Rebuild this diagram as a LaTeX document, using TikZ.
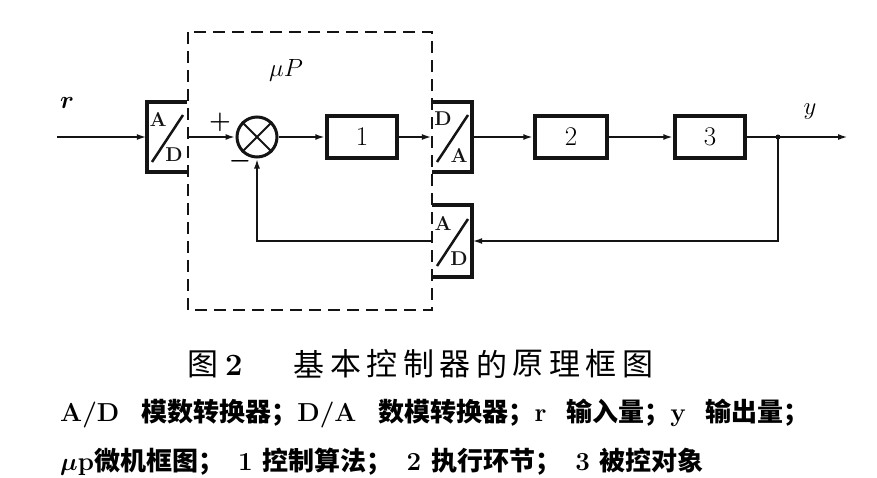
\documentclass[tikz,border=0pt]{standalone}
\usepackage{fontspec}
\newfontfamily\cjk{Noto Sans CJK SC}
\usepackage{tikz}
\usetikzlibrary{arrows.meta, positioning}
\definecolor{InkBlack}{HTML}{141414}

\tikzset{
  conv/.style={minimum width=40pt, minimum height=70pt, inner sep=0pt},
  cvtxt/.style={font=\fontsize{20}{20}\selectfont\bfseries, inner sep=0pt, text=InkBlack},
  blk/.style={draw=InkBlack, line width=3.5pt, minimum width=70pt, minimum height=42pt,
    inner sep=0pt, font=\fontsize{27}{27}\selectfont},
  sig/.style={line width=2pt, draw=InkBlack, -{Latex[length=10pt,width=6pt]}},
  keyline/.style={anchor=west, inner sep=0pt, font=\fontsize{26}{26}\selectfont\bfseries},
}

\begin{document}
\begin{tikzpicture}[x=1pt, y=-1pt, line join=miter]
  \useasboundingbox (0,0) rectangle (877,477);

  % microprocessor boundary
  \draw[InkBlack, line width=2.5pt, dash pattern=on 12pt off 7pt] (188,32) rectangle (432,310);
  \node[font=\fontsize{26}{26}\selectfont] (mup) at (286,70) {$\mu P$};

  % converters
  \node[conv] (ad1) at (167,137) {};
  \node[conv] (da) at (452,137) {};
  \node[conv, minimum height=72pt] (ad2) at (452,241) {};
  \draw[InkBlack, line width=3.5pt] (ad1.north east) -- (ad1.north west) -- (ad1.south west) -- (ad1.south east);
  \foreach \n in {da, ad2} {
    \draw[InkBlack, line width=3.5pt] (\n.north west) -- (\n.north east) -- (\n.south east) -- (\n.south west);
  }
  \foreach \n/\a/\b in {ad1/A/D, da/D/A, ad2/A/D} {
    \draw[InkBlack, line width=2.5pt] ([shift={(-15,25)}]\n.center) -- ([shift={(16,-22)}]\n.center);
    \node[cvtxt] (\n-a) at ([shift={(-9,-18)}]\n.center) {\a};
    \node[cvtxt] (\n-b) at ([shift={(7,18)}]\n.center) {\b};
  }

  % comparator and blocks
  \node[draw=InkBlack, circle, line width=3pt, minimum size=40pt, inner sep=0pt] (sum) at (257,137) {};
  \draw[InkBlack, line width=2pt] (sum.north west) -- (sum.south east);
  \draw[InkBlack, line width=2pt] (sum.north east) -- (sum.south west);
  \node[font=\fontsize{26}{26}\selectfont\boldmath] (plus) at (220,122) {$+$};
  \node[font=\fontsize{26}{26}\selectfont\boldmath] (minus) at (240,161) {$-$};

  \node[blk] (b1) at (362,137) {1};
  \node[blk, minimum width=72pt] (b2) at (571,137) {2};
  \node[blk] (b3) at (710,137) {3};

  \coordinate (rin) at (57,137);
  \coordinate (tap) at (778,137);
  \coordinate (yout) at (848,137);
  \node[font=\fontsize{30}{30}\selectfont\boldmath] (rlab) at (67,103) {$r$};
  \node[font=\fontsize{30}{30}\selectfont] (ylab) at (810,112) {$y$};

  % signal flow
  \draw[sig] (rin) -- (ad1.west);
  \draw[sig] (ad1.east) -- (sum.west);
  \draw[sig] (sum.east) -- (b1.west);
  \draw[sig] (b1.east) -- (da.west);
  \draw[sig] (da.east) -- (b2.west);
  \draw[sig] (b2.east) -- (b3.west);
  \draw[sig] (b3.east) -- (yout);
  \draw[sig] (tap) |- (ad2.east);
  \draw[sig] (ad2.west) -| (sum.south);
  \fill[InkBlack] (tap) circle (2.5pt);

  % caption
  \node[anchor=west, inner sep=0pt, font=\fontsize{31}{31}\selectfont] (fig) at (187,364) {{\cjk 图}\hspace{7pt}\textbf{2}};
  \foreach \c [count=\i from 0] in {基,本,控,制,器,的,原,理,框,图} {
    \node[inner sep=0pt, font=\cjk\fontsize{31}{31}\selectfont] (t\i) at (309+36.5*\i,364) {\c};
  }
  \node[keyline] (key1) at (60,414)
    {A/D\hspace{22pt}{\cjk 模数转换器；}D/A\hspace{22pt}{\cjk 数模转换器；}r\hspace{20pt}{\cjk 输入量；}y\hspace{20pt}{\cjk 输出量；}};
  \node[keyline] (key2) at (60,462)
    {{\boldmath$\mu$}p{\cjk 微机框图；}\hspace{14pt}1\hspace{10pt}{\cjk 控制算法；}\hspace{14pt}2\hspace{10pt}{\cjk 执行环节；}\hspace{14pt}3\hspace{10pt}{\cjk 被控对象}};
\end{tikzpicture}
\end{document}
